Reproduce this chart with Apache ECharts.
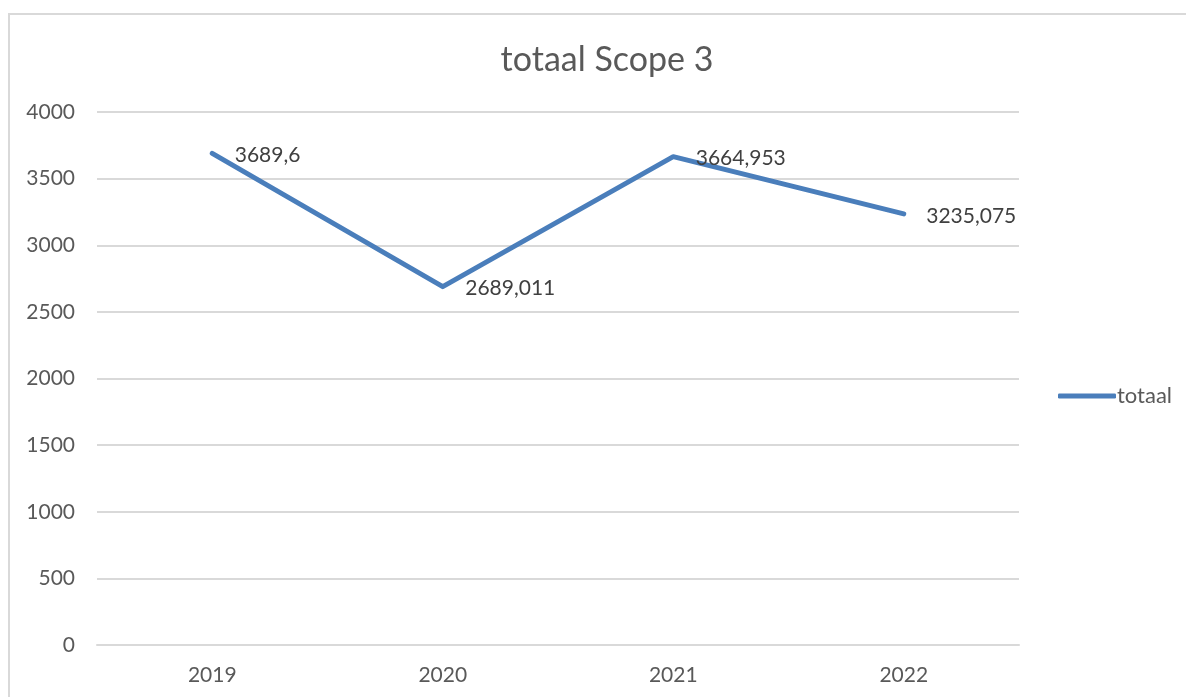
<!DOCTYPE html>
<html lang="nl">
<head>
    <meta charset="UTF-8">
    <title>totaal Scope 3</title>
    <script src="https://cdn.jsdelivr.net/npm/echarts@6/dist/echarts.min.js"></script>
    <style>
        body { margin: 0; background: #fff; }
        #frame {
            position: absolute; left: 8px; top: 13px;
            width: 1200px; height: 720px;
            border: 2px solid #d9d9d9;
        }
        #main { position: absolute; left: 0; top: 0; width: 1186px; height: 697px; }
    </style>
</head>
<body>
<div id="frame"></div>
<div id="main"></div>
<script>
    // data
    var years = ['2019', '2020', '2021', '2022'];
    var totaal = [3689.6, 2689.011, 3664.953, 3235.075];

    var font = 'Lato, "Open Sans", sans-serif';
    var myChart = echarts.init(document.getElementById('main'));
    var option = {
        animation: false,
        textStyle: { fontFamily: font },
        title: {
            text: 'totaal Scope 3',
            left: 602, textAlign: 'center', top: 38,
            textStyle: { fontFamily: font, fontSize: 34, fontWeight: 'normal', color: '#595959' }
        },
        legend: {
            data: ['totaal'],
            left: 1053, top: 380,
            itemWidth: 58, itemHeight: 5, itemGap: 0,
            icon: 'roundRect',
            textStyle: { fontFamily: font, fontSize: 22, color: '#595959', padding: [0, 0, 0, -4] }
        },
        grid: { left: 97, right: 167, top: 112, bottom: 52 },
        xAxis: {
            type: 'category',
            data: years,
            boundaryGap: true,
            axisLine: { show: true, lineStyle: { color: '#d9d9d9', width: 2 } },
            axisTick: { show: false },
            axisLabel: { fontFamily: font, fontSize: 21, color: '#595959', margin: 20 }
        },
        yAxis: {
            type: 'value',
            min: 0, max: 4000, interval: 500,
            axisLine: { show: false },
            axisTick: { show: false },
            splitLine: { lineStyle: { color: '#d9d9d9', width: 2 } },
            axisLabel: {
                fontFamily: font, fontSize: 21, color: '#595959', margin: 22,
                formatter: function (v) { return String(v); }
            }
        },
        series: [{
            name: 'totaal',
            type: 'line',
            data: totaal,
            symbol: 'circle',
            symbolSize: 1,
            lineStyle: { color: '#4a7ebb', width: 5, cap: 'round', join: 'round' },
            itemStyle: { color: '#4a7ebb' },
            label: {
                show: true,
                position: 'right',
                distance: 22,
                offset: [0, 2],
                fontFamily: font, fontSize: 21, color: '#404040',
                formatter: function (p) { return String(p.value).replace('.', ','); }
            }
        }]
    };
    myChart.setOption(option);
</script>
</body>
</html>
